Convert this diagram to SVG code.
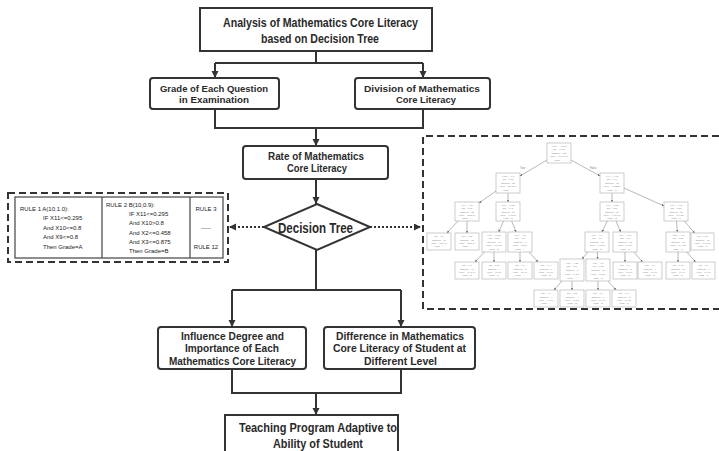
<svg xmlns="http://www.w3.org/2000/svg" width="719" height="451" viewBox="0 0 719 451">
<defs>
  <marker id="arr" markerUnits="userSpaceOnUse" markerWidth="8" markerHeight="8" refX="7" refY="3.5" orient="auto">
    <path d="M0,0 L7,3.5 L0,7 z" fill="#333"/>
  </marker>
  <marker id="tarr" markerUnits="userSpaceOnUse" markerWidth="3" markerHeight="3" refX="2.4" refY="1.2" orient="auto">
    <path d="M0,0 L2.4,1.2 L0,2.4 z" fill="#666"/>
  </marker>
  <style>
    .box { fill: #fff; stroke: #333; stroke-width: 2; }
    .lbl { font-family: "Liberation Sans", Arial, sans-serif; font-weight: bold; fill: #2a2a2a; }
    .l95 { font-size: 9.5px; }
    .l10 { font-size: 10.5px; }
    .l12 { font-size: 12px; }
    .conn { fill: none; stroke: #333; stroke-width: 2; }
    .dot { fill: none; stroke: #333; stroke-width: 1.8; stroke-dasharray: 2 2; }
    .dash { fill: none; stroke: #333; stroke-width: 2; stroke-dasharray: 7 4; }
    .rule { font-family: "Liberation Sans", sans-serif; font-size: 6px; fill: #222; }
    .tn rect { fill: #fff; stroke: #aaa; stroke-width: 0.6; }
    .tn text { font-family: "Liberation Sans", sans-serif; font-size: 2.3px; fill: #888; text-anchor: middle; }
    .te { fill: none; stroke: #888; stroke-width: 0.6; }
    .tl { font-family: "Liberation Sans", sans-serif; font-size: 2.6px; fill: #777; }
  </style>
</defs>

<rect width="719" height="451" fill="#fff"/>

<!-- connectors of the main flow -->
<g id="connectors">
  <path class="conn" d="M316,51 V63 M215,63 H423"/>
  <path class="conn" d="M215,63 V78" marker-end="url(#arr)"/>
  <path class="conn" d="M423,63 V78" marker-end="url(#arr)"/>
  <path class="conn" d="M215,109 V128 H423 V109"/>
  <path class="conn" d="M316,128 V146" marker-end="url(#arr)"/>
  <path class="conn" d="M316,179 V204" marker-end="url(#arr)"/>
  <path class="dot" d="M264,227 H229" marker-end="url(#arr)"/>
  <path class="dot" d="M370,227 H421" marker-end="url(#arr)"/>
  <path class="conn" d="M316,250 V290 M232,290 H401"/>
  <path class="conn" d="M232,290 V327" marker-end="url(#arr)"/>
  <path class="conn" d="M401,290 V327" marker-end="url(#arr)"/>
  <path class="conn" d="M232,369 V393 H401 V369"/>
  <path class="conn" d="M316,393 V415" marker-end="url(#arr)"/>
</g>

<!-- flow nodes -->
<g id="n-analysis">
  <rect class="box" x="200" y="8" width="232" height="43"/>
  <text class="lbl l12" x="223" y="27" textLength="195" lengthAdjust="spacingAndGlyphs">Analysis of Mathematics Core Literacy</text>
  <text class="lbl l12" x="261" y="43" textLength="118" lengthAdjust="spacingAndGlyphs">based on Decision Tree</text>
</g>
<g id="n-grade">
  <rect class="box" x="150" y="78" width="129" height="31" rx="3"/>
  <text class="lbl l95" x="160" y="92" textLength="108" lengthAdjust="spacingAndGlyphs">Grade of Each Question</text>
  <text class="lbl l95" x="179" y="103" textLength="70" lengthAdjust="spacingAndGlyphs">in Examination</text>
</g>
<g id="n-division">
  <rect class="box" x="355" y="78" width="135" height="31" rx="3"/>
  <text class="lbl l95" x="364" y="92" textLength="116" lengthAdjust="spacingAndGlyphs">Division of Mathematics</text>
  <text class="lbl l95" x="396" y="103" textLength="60" lengthAdjust="spacingAndGlyphs">Core Literacy</text>
</g>
<g id="n-rate">
  <rect class="box" x="243" y="146" width="145" height="33" rx="3"/>
  <text class="lbl l10" x="268" y="160" textLength="96" lengthAdjust="spacingAndGlyphs">Rate of Mathematics</text>
  <text class="lbl l10" x="287" y="172" textLength="60" lengthAdjust="spacingAndGlyphs">Core Literacy</text>
</g>
<g id="n-decision">
  <polygon class="box" points="317,204 370,227 317,250 264,227"/>
  <text class="lbl" font-size="14" x="278" y="233" textLength="75" lengthAdjust="spacingAndGlyphs">Decision Tree</text>
</g>
<g id="n-influence">
  <rect class="box" x="158" y="327" width="148" height="42" rx="3"/>
  <text class="lbl l10" x="181" y="340" textLength="103" lengthAdjust="spacingAndGlyphs">Influence Degree and</text>
  <text class="lbl l10" x="185" y="352" textLength="94" lengthAdjust="spacingAndGlyphs">Importance of Each</text>
  <text class="lbl l10" x="169" y="364.5" textLength="127" lengthAdjust="spacingAndGlyphs">Mathematics Core Literacy</text>
</g>
<g id="n-difference">
  <rect class="box" x="324" y="327" width="151" height="42" rx="3"/>
  <text class="lbl l10" x="336" y="340" textLength="128" lengthAdjust="spacingAndGlyphs">Difference in Mathematics</text>
  <text class="lbl l10" x="333" y="352" textLength="133" lengthAdjust="spacingAndGlyphs">Core Literacy of Student at</text>
  <text class="lbl l10" x="364" y="364.5" textLength="73" lengthAdjust="spacingAndGlyphs">Different Level</text>
</g>
<g id="n-teaching">
  <rect class="box" x="225" y="415" width="173" height="42"/>
  <text class="lbl l12" x="239" y="432" textLength="158" lengthAdjust="spacingAndGlyphs">Teaching Program Adaptive to</text>
  <text class="lbl l12" x="273" y="448" textLength="90" lengthAdjust="spacingAndGlyphs">Ability of Student</text>
</g>

<!-- extracted rules panel -->
<g id="n-rules">
  <rect class="dash" x="8" y="193" width="220" height="69"/>
  <rect x="15" y="197" width="208" height="61" fill="#fff" stroke="#444" stroke-width="1.2"/>
  <path d="M102,197 V258 M190,197 V258" stroke="#444" stroke-width="1.2"/>
  <text class="rule" x="20" y="211">RULE 1 A(10,1.0):</text>
  <text class="rule" x="43" y="220">IF X11&lt;=0.295</text>
  <text class="rule" x="43" y="230">And X10&lt;=0.8</text>
  <text class="rule" x="43" y="239">And X9&lt;=0.8</text>
  <text class="rule" x="43" y="249">Then Grade=A</text>
  <text class="rule" x="106" y="207">RULE 2 B(10,0.9):</text>
  <text class="rule" x="129" y="216">IF X11&lt;=0.295</text>
  <text class="rule" x="129" y="225">And X10&gt;0.8</text>
  <text class="rule" x="129" y="235">And X2&lt;=0.458</text>
  <text class="rule" x="129" y="244">And X3&lt;=0.875</text>
  <text class="rule" x="129" y="253">Then Grade=B</text>
  <text class="rule" x="206" y="211" text-anchor="middle">RULE 3</text>
  <text class="rule" x="206" y="230" text-anchor="middle">-----</text>
  <text class="rule" x="206" y="249" text-anchor="middle">RULE 12</text>
</g>

<!-- fitted decision tree panel -->
<g id="n-tree">
  <path class="dash" d="M719,136 H423 V309 H719"/>
  <g id="tree-edges">
    <path class="te" marker-end="url(#tarr)" d="M547,160 L520,176"/>
    <path class="te" marker-end="url(#tarr)" d="M571,160 L600,176"/>
    <path class="te" marker-end="url(#tarr)" d="M496,191 L479,203"/>
    <path class="te" marker-end="url(#tarr)" d="M508,193 L508,202"/>
    <path class="te" marker-end="url(#tarr)" d="M612,193 L612,202"/>
    <path class="te" marker-end="url(#tarr)" d="M624,188 L664,206"/>
    <path class="te" marker-end="url(#tarr)" d="M458,221 L447,233"/>
    <path class="te" marker-end="url(#tarr)" d="M467,221 L467,233"/>
    <path class="te" marker-end="url(#tarr)" d="M503.6,221 L498.6,232"/>
    <path class="te" marker-end="url(#tarr)" d="M511.7,221 L516.1,232"/>
    <path class="te" marker-end="url(#tarr)" d="M607.3,221 L601.9,232"/>
    <path class="te" marker-end="url(#tarr)" d="M616,221 L620.7,232"/>
    <path class="te" marker-end="url(#tarr)" d="M676.6,221 L677.3,232"/>
    <path class="te" marker-end="url(#tarr)" d="M684.2,221 L694.6,233"/>
    <path class="te" marker-end="url(#tarr)" d="M484.5,252 L475,262"/>
    <path class="te" marker-end="url(#tarr)" d="M494,252 L494,262"/>
    <path class="te" marker-end="url(#tarr)" d="M520,252 L520,262"/>
    <path class="te" marker-end="url(#tarr)" d="M529,252 L538,262"/>
    <path class="te" marker-end="url(#tarr)" d="M588,252 L582,259"/>
    <path class="te" marker-end="url(#tarr)" d="M597.4,252 L597.6,259"/>
    <path class="te" marker-end="url(#tarr)" d="M625,252 L625,262"/>
    <path class="te" marker-end="url(#tarr)" d="M634,252 L642.5,262"/>
    <path class="te" marker-end="url(#tarr)" d="M678,252 L678,262"/>
    <path class="te" marker-end="url(#tarr)" d="M686.8,252 L695.5,262"/>
    <path class="te" marker-end="url(#tarr)" d="M562,281 L554,290"/>
    <path class="te" marker-end="url(#tarr)" d="M572,281 L572,290"/>
    <path class="te" marker-end="url(#tarr)" d="M598,281 L598,290"/>
    <path class="te" marker-end="url(#tarr)" d="M608,281 L616,290"/>
    <text class="tl" x="520" y="169">True</text>
    <text class="tl" x="590" y="169">False</text>
  </g>

  <!-- split nodes: test, impurity, samples, value, class -->
  <g class="tn" transform="translate(547,143)"><rect width="24" height="20"/>
    <text x="12" y="4">X[11] &lt;= 0.295</text><text x="12" y="7.4">gini = 0.667</text><text x="12" y="10.8">samples = 120</text><text x="12" y="14.2">value = [40,40,40]</text><text x="12" y="17.6">class = A</text></g>
  <g class="tn" transform="translate(496,173)"><rect width="24" height="20"/>
    <text x="12" y="4">X[10] &lt;= 0.8</text><text x="12" y="7.4">gini = 0.52</text><text x="12" y="10.8">samples = 58</text><text x="12" y="14.2">value = [36,18,4]</text><text x="12" y="17.6">class = A</text></g>
  <g class="tn" transform="translate(600,173)"><rect width="24" height="20"/>
    <text x="12" y="4">X[4] &lt;= 0.62</text><text x="12" y="7.4">gini = 0.49</text><text x="12" y="10.8">samples = 62</text><text x="12" y="14.2">value = [4,22,36]</text><text x="12" y="17.6">class = C</text></g>
  <g class="tn" transform="translate(455,202)"><rect width="24" height="19"/>
    <text x="12" y="3.8">X[9] &lt;= 0.8</text><text x="12" y="7.2">gini = 0.28</text><text x="12" y="10.6">samples = 38</text><text x="12" y="14">value = [32,5,1]</text><text x="12" y="17.4">class = A</text></g>
  <g class="tn" transform="translate(496,202)"><rect width="24" height="19"/>
    <text x="12" y="3.8">X[2] &lt;= 0.458</text><text x="12" y="7.2">gini = 0.45</text><text x="12" y="10.6">samples = 20</text><text x="12" y="14">value = [4,13,3]</text><text x="12" y="17.4">class = B</text></g>
  <g class="tn" transform="translate(600,202)"><rect width="24" height="19"/>
    <text x="12" y="3.8">X[7] &lt;= 0.55</text><text x="12" y="7.2">gini = 0.56</text><text x="12" y="10.6">samples = 30</text><text x="12" y="14">value = [4,16,10]</text><text x="12" y="17.4">class = B</text></g>
  <g class="tn" transform="translate(664,202)"><rect width="24" height="19"/>
    <text x="12" y="3.8">X[1] &lt;= 0.71</text><text x="12" y="7.2">gini = 0.21</text><text x="12" y="10.6">samples = 32</text><text x="12" y="14">value = [0,6,26]</text><text x="12" y="17.4">class = C</text></g>
  <g class="tn" transform="translate(482,232)"><rect width="24" height="20"/>
    <text x="12" y="4">X[3] &lt;= 0.875</text><text x="12" y="7.4">gini = 0.34</text><text x="12" y="10.8">samples = 14</text><text x="12" y="14.2">value = [1,11,2]</text><text x="12" y="17.6">class = B</text></g>
  <g class="tn" transform="translate(508,232)"><rect width="24" height="20"/>
    <text x="12" y="4">X[6] &lt;= 0.5</text><text x="12" y="7.4">gini = 0.5</text><text x="12" y="10.8">samples = 6</text><text x="12" y="14.2">value = [3,2,1]</text><text x="12" y="17.6">class = A</text></g>
  <g class="tn" transform="translate(585,232)"><rect width="24" height="20"/>
    <text x="12" y="4">X[5] &lt;= 0.4</text><text x="12" y="7.4">gini = 0.5</text><text x="12" y="10.8">samples = 18</text><text x="12" y="14.2">value = [4,11,3]</text><text x="12" y="17.6">class = B</text></g>
  <g class="tn" transform="translate(613,232)"><rect width="24" height="20"/>
    <text x="12" y="4">X[8] &lt;= 0.67</text><text x="12" y="7.4">gini = 0.5</text><text x="12" y="10.8">samples = 12</text><text x="12" y="14.2">value = [0,5,7]</text><text x="12" y="17.6">class = C</text></g>
  <g class="tn" transform="translate(666,232)"><rect width="24" height="20"/>
    <text x="12" y="4">X[12] &lt;= 0.3</text><text x="12" y="7.4">gini = 0.36</text><text x="12" y="10.8">samples = 17</text><text x="12" y="14.2">value = [0,4,13]</text><text x="12" y="17.6">class = C</text></g>
  <g class="tn" transform="translate(560,259)"><rect width="24" height="22"/>
    <text x="12" y="4.5">X[2] &lt;= 0.35</text><text x="12" y="8.3">gini = 0.56</text><text x="12" y="12.1">samples = 8</text><text x="12" y="15.9">value = [4,3,1]</text><text x="12" y="19.7">class = A</text></g>
  <g class="tn" transform="translate(586,259)"><rect width="24" height="22"/>
    <text x="12" y="4.5">X[3] &lt;= 0.6</text><text x="12" y="8.3">gini = 0.32</text><text x="12" y="12.1">samples = 10</text><text x="12" y="15.9">value = [0,8,2]</text><text x="12" y="19.7">class = B</text></g>

  <!-- leaves: impurity, samples, value, class -->
  <g class="tn" transform="translate(427,233)"><rect width="24" height="17"/>
    <text x="12" y="4.2">gini = 0.0</text><text x="12" y="7.6">samples = 10</text><text x="12" y="11">value = [10,0,0]</text><text x="12" y="14.4">class = A</text></g>
  <g class="tn" transform="translate(455,233)"><rect width="24" height="17"/>
    <text x="12" y="4.2">gini = 0.37</text><text x="12" y="7.6">samples = 28</text><text x="12" y="11">value = [22,5,1]</text><text x="12" y="14.4">class = A</text></g>
  <g class="tn" transform="translate(691,233)"><rect width="23" height="17"/>
    <text x="11.5" y="4.2">gini = 0.12</text><text x="11.5" y="7.6">samples = 15</text><text x="11.5" y="11">value = [0,1,14]</text><text x="11.5" y="14.4">class = C</text></g>
  <g class="tn" transform="translate(455,262)"><rect width="24" height="17"/>
    <text x="12" y="4.2">gini = 0.0</text><text x="12" y="7.6">samples = 10</text><text x="12" y="11">value = [0,10,0]</text><text x="12" y="14.4">class = B</text></g>
  <g class="tn" transform="translate(482,262)"><rect width="24" height="17"/>
    <text x="12" y="4.2">gini = 0.62</text><text x="12" y="7.6">samples = 4</text><text x="12" y="11">value = [1,1,2]</text><text x="12" y="14.4">class = C</text></g>
  <g class="tn" transform="translate(508,262)"><rect width="24" height="17"/>
    <text x="12" y="4.2">gini = 0.0</text><text x="12" y="7.6">samples = 3</text><text x="12" y="11">value = [3,0,0]</text><text x="12" y="14.4">class = A</text></g>
  <g class="tn" transform="translate(534,262)"><rect width="24" height="17"/>
    <text x="12" y="4.2">gini = 0.44</text><text x="12" y="7.6">samples = 3</text><text x="12" y="11">value = [0,2,1]</text><text x="12" y="14.4">class = B</text></g>
  <g class="tn" transform="translate(613,262)"><rect width="24" height="17"/>
    <text x="12" y="4.2">gini = 0.0</text><text x="12" y="7.6">samples = 5</text><text x="12" y="11">value = [0,5,0]</text><text x="12" y="14.4">class = B</text></g>
  <g class="tn" transform="translate(638,262)"><rect width="24" height="17"/>
    <text x="12" y="4.2">gini = 0.0</text><text x="12" y="7.6">samples = 7</text><text x="12" y="11">value = [0,0,7]</text><text x="12" y="14.4">class = C</text></g>
  <g class="tn" transform="translate(666,262)"><rect width="24" height="17"/>
    <text x="12" y="4.2">gini = 0.48</text><text x="12" y="7.6">samples = 10</text><text x="12" y="11">value = [0,4,6]</text><text x="12" y="14.4">class = C</text></g>
  <g class="tn" transform="translate(692,262)"><rect width="23" height="17"/>
    <text x="11.5" y="4.2">gini = 0.0</text><text x="11.5" y="7.6">samples = 7</text><text x="11.5" y="11">value = [0,0,7]</text><text x="11.5" y="14.4">class = C</text></g>
  <g class="tn" transform="translate(534,290)"><rect width="24" height="17"/>
    <text x="12" y="4.2">gini = 0.0</text><text x="12" y="7.6">samples = 4</text><text x="12" y="11">value = [4,0,0]</text><text x="12" y="14.4">class = A</text></g>
  <g class="tn" transform="translate(560,290)"><rect width="24" height="17"/>
    <text x="12" y="4.2">gini = 0.38</text><text x="12" y="7.6">samples = 4</text><text x="12" y="11">value = [0,3,1]</text><text x="12" y="14.4">class = B</text></g>
  <g class="tn" transform="translate(586,290)"><rect width="24" height="17"/>
    <text x="12" y="4.2">gini = 0.0</text><text x="12" y="7.6">samples = 7</text><text x="12" y="11">value = [0,7,0]</text><text x="12" y="14.4">class = B</text></g>
  <g class="tn" transform="translate(612,290)"><rect width="24" height="17"/>
    <text x="12" y="4.2">gini = 0.44</text><text x="12" y="7.6">samples = 3</text><text x="12" y="11">value = [0,1,2]</text><text x="12" y="14.4">class = C</text></g>
</g>
</svg>
